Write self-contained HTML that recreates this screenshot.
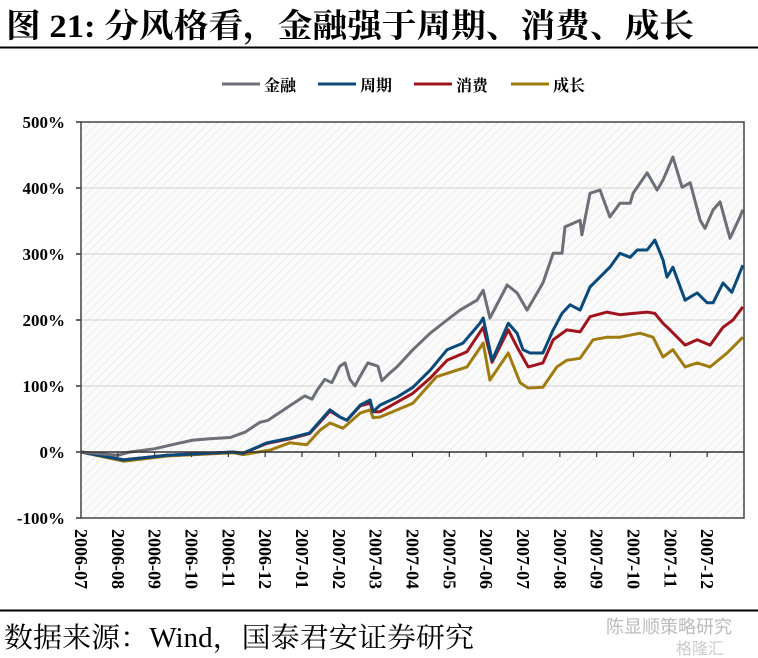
<!DOCTYPE html>
<html><head><meta charset="utf-8"><style>
body{margin:0;background:#fff;width:758px;height:658px;overflow:hidden;font-family:"Liberation Serif","Noto Serif CJK SC",serif}
svg{display:block}
</style></head><body>
<svg id="chart" width="758" height="658" xmlns="http://www.w3.org/2000/svg">
<defs>
<pattern id="hatch" width="6" height="6" patternUnits="userSpaceOnUse" patternTransform="rotate(45)">
<rect width="6" height="6" fill="#fbfbfb"/><line x1="0" y1="0" x2="0" y2="6" stroke="#ececec" stroke-width="2"/>
</pattern>
</defs>
<text x="6" y="37" font-size="33" font-weight="bold" textLength="688" lengthAdjust="spacingAndGlyphs" font-family="'Liberation Serif','Noto Serif CJK SC',serif">图 21: 分风格看，金融强于周期、消费、成长</text>
<line x1="0" y1="47.5" x2="758" y2="47.5" stroke="#000" stroke-width="2"/>
<g id="legend"></g>
<rect x="81" y="122" width="663" height="396" fill="url(#hatch)"/>
<g id="grid"></g>
<g id="series"></g>
<g id="axes"></g>
<line x1="0" y1="610.5" x2="758" y2="610.5" stroke="#000" stroke-width="2"/>
<text x="4" y="647" font-size="28" textLength="470" lengthAdjust="spacingAndGlyphs" font-family="'Liberation Serif','Noto Serif CJK SC',serif">数据来源：Wind，国泰君安证券研究</text>
<text x="606" y="633" font-size="18" fill="#bbb" font-family="'Liberation Sans','Noto Sans CJK SC',sans-serif">陈显顺策略研究</text>
<text x="676" y="654" font-size="16" fill="#ccc" font-family="'Liberation Sans','Noto Sans CJK SC',sans-serif">格隆汇</text>
</svg>
<script>
const monthLabels=["2006-07","2006-08","2006-09","2006-10","2006-11","2006-12","2007-01","2007-02","2007-03","2007-04","2007-05","2007-06","2007-07","2007-08","2007-09","2007-10","2007-11","2007-12"];
const yTicks=[-100,0,100,200,300,400,500];
const seriesNames=["金融","周期","消费","成长"];
const seriesColors=["#6e6e78","#0a4a7a","#a0141e","#a07c10"];
const finT=[0,1.0,1.33,2.01,2.55,3.04,3.5,4.05,4.45,4.86,5.08,5.4,5.67,6.08,6.27,6.43,6.62,6.81,7.03,7.17,7.3,7.44,7.58,7.79,8.06,8.17,8.39,8.58,9.01,9.48,9.94,10.29,10.75,10.92,11.1,11.57,11.84,12.11,12.54,12.82,13.06,13.14,13.55,13.6,13.82,14.09,14.36,14.63,14.91,14.99,15.37,15.64,15.8,16.07,16.32,16.54,16.81,16.94,17.16,17.35,17.62,17.89,17.97];
const finV=[0,-5,0,5,12,18,20,22,30,45,48,60,70,85,80,95,110,105,130,135,110,100,115,135,130,108,120,129,155,180,200,215,230,245,203,253,241,215,256,301,301,341,351,329,392,397,356,377,377,392,423,397,412,447,401,408,351,339,367,379,324,356,367];
const cycT=[0,1.16,2.34,4.13,4.4,5.05,5.67,6.21,6.76,7.03,7.22,7.58,7.85,7.93,8.12,8.58,9.01,9.48,9.94,10.37,10.83,10.92,11.16,11.6,11.84,12.0,12.19,12.54,12.82,13.06,13.28,13.55,13.82,14.09,14.36,14.63,14.91,15.1,15.37,15.58,15.8,15.91,16.07,16.4,16.73,17.0,17.16,17.43,17.67,17.97];
const cycV=[0,-12,-5,0,-2,14,21,29,64,53,48,71,79,61,71,83,98,124,155,165,195,203,139,195,180,155,150,150,185,210,223,215,250,265,280,301,295,306,306,321,291,265,280,230,241,226,226,256,242,283];
const conT=[0,1.16,2.34,4.13,4.4,5.05,5.67,6.21,6.76,7.03,7.22,7.58,7.85,7.93,8.12,9.01,9.48,9.94,10.48,10.92,11.16,11.6,11.84,12.14,12.54,12.82,13.19,13.55,13.82,14.28,14.63,14.99,15.37,15.58,15.8,15.99,16.4,16.73,17.08,17.43,17.7,17.97];
const conV=[0,-12,-5,0,-2,13,20,28,62,53,48,70,74,61,61,89,112,139,152,189,136,185,159,129,135,170,185,182,205,212,208,210,212,210,195,185,162,170,162,189,200,220];
const groT=[0,1.16,2.34,4.13,4.4,5.14,5.67,6.13,6.49,6.76,7.11,7.58,7.85,7.93,8.12,9.01,9.65,10.48,10.92,11.1,11.6,11.92,12.14,12.54,12.92,13.19,13.55,13.9,14.28,14.63,15.18,15.53,15.8,16.07,16.4,16.73,17.08,17.54,17.97];
const groV=[0,-14,-6,-1,-4,3,14,11,33,44,36,59,64,52,53,74,114,129,165,109,150,105,97,98,129,139,142,170,174,174,180,174,144,155,129,135,129,150,174];

const NS="http://www.w3.org/2000/svg";
const X0=81,X1=744,Y0=122,Y1=518;
function xS(m){return X0+(X1-X0)*m/18;}
function yS(v){return Y1-(v+100)/600*(Y1-Y0);}
function mk(tag,attrs,parent){const e=document.createElementNS(NS,tag);for(const k in attrs)e.setAttribute(k,attrs[k]);parent.appendChild(e);return e;}
const grid=document.getElementById('grid'),axes=document.getElementById('axes'),ser=document.getElementById('series'),leg=document.getElementById('legend');
yTicks.forEach(v=>{
  const y=yS(v);
  if(v>0&&v<500){const g=mk('line',{x1:X0,x2:X1,y1:y,y2:y,stroke:'#d9d9d9','stroke-width':1.2},grid);
  
  }
  const t=mk('text',{x:X0-16,y:y+6,'text-anchor':'end','font-size':17,'font-weight':'bold'},axes);
  t.textContent=v+'%';
  
  
  const tk=mk('line',{x1:X0-5,x2:X0,y1:y,y2:y,stroke:'#333','stroke-width':1.5},axes);
  
  
});
const frame=mk('path',{d:`M${X0},${Y0}H${X1}V${Y1}H${X0}Z`,fill:'none',stroke:'#444','stroke-width':1.5},axes);


const zl=mk('line',{x1:X0,x2:X1,y1:yS(0),y2:yS(0),stroke:'#333','stroke-width':1.5},axes);


monthLabels.forEach((lab,i)=>{
  const x=xS(i);
  if(i>0){const tk=mk('line',{x1:x,x2:x,y1:yS(0),y2:yS(0)+5,stroke:'#333','stroke-width':1.2},axes);
  
  }
  const t=mk('text',{x:0,y:0,'font-size':18,'font-weight':'bold',transform:`translate(${x-6},${Y1+11}) rotate(90)`},axes);
  t.textContent=lab;
  
  
});
const data=[[finT,finV],[cycT,cycV],[conT,conV],[groT,groV]];
const lineNames=['finance-line','cyclical-line','consumer-line','growth-line'];
for(let s=3;s>=0;s--){
  const [T,V]=data[s];
  const d=T.map((t,i)=>(i?'L':'M')+xS(t).toFixed(1)+','+yS(V[i]).toFixed(1)).join('');
  const p=mk('path',{d:d,fill:'none',stroke:seriesColors[s],'stroke-width':3,'stroke-linejoin':'round'},ser);
  
  
}
const legX=[222,318,414,511];
seriesNames.forEach((n,i)=>{
  const l=mk('line',{x1:legX[i],x2:legX[i]+38,y1:84,y2:84,stroke:seriesColors[i],'stroke-width':3},leg);
  
  
  const t=mk('text',{x:legX[i]+42,y:91,'font-size':16,'font-weight':'bold'},leg);
  t.textContent=n;
  
  
});
</script>
</body></html>
